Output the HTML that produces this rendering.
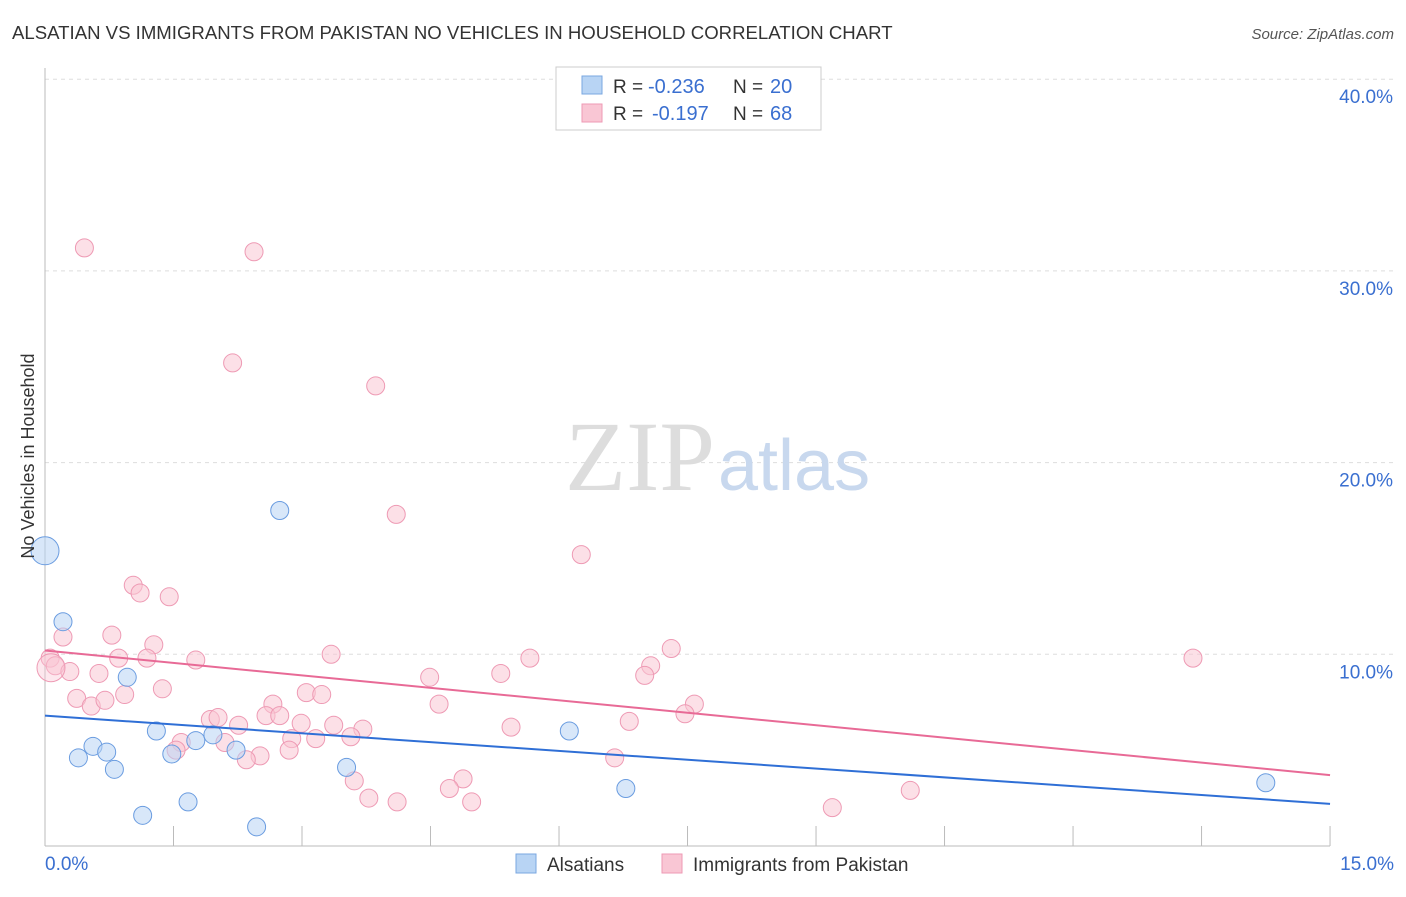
<!DOCTYPE html>
<html><head><meta charset="utf-8"><style>
body{margin:0;background:#fff;font-family:"Liberation Sans",sans-serif;}
</style></head><body>
<svg width="1406" height="892" xmlns="http://www.w3.org/2000/svg" style="font-family:'Liberation Sans',sans-serif">
<text x="12" y="39" font-size="18.6" fill="#333">ALSATIAN VS IMMIGRANTS FROM PAKISTAN NO VEHICLES IN HOUSEHOLD CORRELATION CHART</text>
<text x="1394" y="39" font-size="15" fill="#555" font-style="italic" text-anchor="end">Source: ZipAtlas.com</text>
<g id="grid"></g>
<text x="715" y="490" font-size="100" fill="#ddd" text-anchor="end" font-family="Liberation Serif">ZIP</text>
<text x="718" y="490" font-size="72" fill="#c8d8ee">atlas</text>
<g id="axes"></g>
<g id="marks"></g>
<text x="34" y="456" font-size="18" fill="#333" text-anchor="middle" transform="rotate(-90 34 456)">No Vehicles in Household</text>
<g>
<rect x="556" y="67" width="265" height="63" fill="#fff" stroke="#ccc"/>
<rect x="582" y="76" width="20" height="18" fill="#b8d4f4" stroke="#7aa7e0"/>
<rect x="582" y="104" width="20" height="18" fill="#f9c6d4" stroke="#ee9ab4"/>
<text x="613" y="93" font-size="19" fill="#333">R =</text>
<text x="648" y="93" font-size="20" fill="#3a6fd0">-0.236</text>
<text x="733" y="93" font-size="19" fill="#333">N =</text>
<text x="770" y="93" font-size="20" fill="#3a6fd0">20</text>
<text x="613" y="120" font-size="19" fill="#333">R =</text>
<text x="652" y="120" font-size="20" fill="#3a6fd0">-0.197</text>
<text x="733" y="120" font-size="19" fill="#333">N =</text>
<text x="770" y="120" font-size="20" fill="#3a6fd0">68</text>
</g>
<g>
<rect x="516" y="854" width="20" height="19" fill="#b8d4f4" stroke="#7aa7e0"/>
<text x="547" y="871" font-size="19" fill="#333">Alsatians</text>
<rect x="662" y="854" width="20" height="19" fill="#f9c6d4" stroke="#ee9ab4"/>
<text x="693" y="871" font-size="19" fill="#333">Immigrants from Pakistan</text>
</g>
</svg>
<script>
const xTicks=[0,1.5,3,4.5,6,7.5,9,10.5,12,13.5,15];
const yTicks=[10,20,30,40];
const blueX=[0,0.21,0.96,0.39,0.56,0.72,0.81,1.30,1.48,1.76,1.96,2.23,2.74,3.52,1.67,1.14,2.47,6.12,6.78,14.25];
const blueY=[15.4,11.7,8.8,4.6,5.2,4.9,4.0,6.0,4.8,5.5,5.8,5.0,17.5,4.1,2.3,1.6,1.0,6.0,3.0,3.3];
const pinkX=[0.46,2.44,2.19,3.86,4.10,6.26,1.03,1.11,1.45,0.21,0.78,1.27,0.06,0.12,0.29,0.86,1.19,1.76,3.34,5.66,7.31,7.07,7.00,13.40,0.63,1.37,0.37,0.54,0.70,0.93,3.05,3.23,2.66,4.49,5.32,4.60,2.58,2.74,1.93,2.02,2.26,2.99,3.37,3.71,5.44,6.82,7.58,7.47,1.59,1.53,2.10,2.88,3.16,3.57,2.85,2.51,2.35,3.61,4.88,4.72,4.98,3.78,4.11,6.65,9.19,10.10,0.07];
const pinkY=[31.2,31.0,25.2,24.0,17.3,15.2,13.6,13.2,13.0,10.9,11.0,10.5,9.8,9.4,9.1,9.8,9.8,9.7,10.0,9.8,10.3,9.4,8.9,9.8,9.0,8.2,7.7,7.3,7.6,7.9,8.0,7.9,7.4,8.8,9.0,7.4,6.8,6.8,6.6,6.7,6.3,6.4,6.3,6.1,6.2,6.5,7.4,6.9,5.4,5.0,5.4,5.6,5.6,5.7,5.0,4.7,4.5,3.4,3.5,3.0,2.3,2.5,2.3,4.6,2.0,2.9,9.3];
const blueTrend=[6.8,2.2];
const pinkTrend=[10.2,3.7];
const ns="http://www.w3.org/2000/svg";
const X=v=>45+v*85.67, Y=v=>846-v*19.17;
function mk(t,a,p){const e=document.createElementNS(ns,t);for(const k in a)e.setAttribute(k,a[k]);p.appendChild(e);return e;}
const grid=document.getElementById('grid'),axes=document.getElementById('axes'),marks=document.getElementById('marks');
yTicks.forEach(t=>{const l=mk('line',{x1:45,x2:1394,y1:Y(t),y2:Y(t),stroke:'#ddd','stroke-dasharray':'4 4'},grid);


const tx=mk('text',{x:1393,y:Y(t)+24,'font-size':19,fill:'#3a6fd0','text-anchor':'end'},axes);tx.textContent=t.toFixed(1)+'%';

});
mk('line',{x1:45,x2:45,y1:68,y2:846,stroke:'#bbb'},axes);
mk('line',{x1:45,x2:1330,y1:846,y2:846,stroke:'#bbb'},axes);
xTicks.forEach(t=>{const l=mk('line',{x1:X(t),x2:X(t),y1:826,y2:846,stroke:'#bbb'},axes);

});
[[0,'0.0%','start',45],[15,'15.0%','end',1394]].forEach(d=>{const tx=mk('text',{x:d[3],y:870,'font-size':19,fill:'#3a6fd0','text-anchor':d[2]},axes);tx.textContent=d[1];

});
function pts(xs,ys,fill,stroke,name){xs.forEach((x,i)=>{const big=(i==0&&name=='alsatian-point')||(i==xs.length-1&&name=='pakistan-point');
const c=mk('circle',{cx:X(x),cy:Y(ys[i]),r:big?14:9,fill:fill,'fill-opacity':big&&name=='pakistan-point'?0.4:0.55,stroke:stroke,'stroke-width':1},marks);

});}
pts(pinkX,pinkY,'#f9c6d4','#ee9ab4','pakistan-point');
pts(blueX,blueY,'#b8d4f4','#6a9ce0','alsatian-point');
const bl=mk('line',{x1:X(0),x2:X(15),y1:Y(blueTrend[0]),y2:Y(blueTrend[1]),stroke:'#2f6fd6','stroke-width':2},marks);


const pl=mk('line',{x1:X(0),x2:X(15),y1:Y(pinkTrend[0]),y2:Y(pinkTrend[1]),stroke:'#e86a96','stroke-width':2},marks);


</script>
</body></html>
